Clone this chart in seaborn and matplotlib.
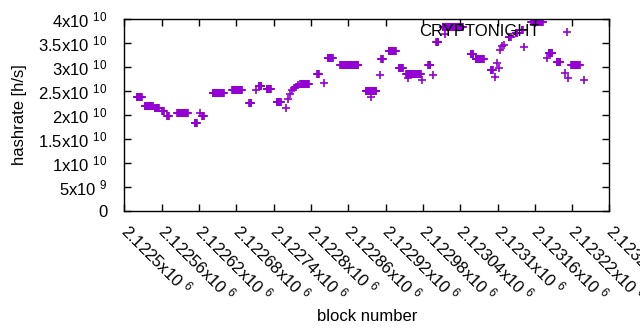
import numpy as np
import pandas as pd
import seaborn as sns
import matplotlib
matplotlib.use('Agg')
import matplotlib.pyplot as plt

# runs of blocks with the same hashrate estimate (rate in units of 1e10 h/s)
run_first = [2122520, 2122533, 2122549, 2122561, 2122569, 2122585, 2122613, 2122625,
             2122642, 2122673, 2122701, 2122716, 2122729, 2122745, 2122783, 2122810,
             2122827, 2122847, 2122888, 2122913, 2122925, 2122941, 2122953, 2122989,
             2123001, 2123012, 2123057, 2123065, 2123089, 2123118, 2123129, 2123139,
             2123154, 2123182, 2123195, 2123218]
run_last = [2122528, 2122546, 2122556, 2122564, 2122572, 2122602, 2122617, 2122628,
            2122660, 2122689, 2122704, 2122720, 2122736, 2122752, 2122797, 2122813,
            2122835, 2122876, 2122905, 2122916, 2122937, 2122948, 2122977, 2122992,
            2123005, 2123044, 2123061, 2123078, 2123092, 2123121, 2123132, 2123141,
            2123173, 2123188, 2123201, 2123232]
run_rate = [2.37, 2.19, 2.14, 2.08, 1.98, 2.04, 1.83, 1.97,
            2.45, 2.51, 2.25, 2.60, 2.53, 2.26, 2.64, 2.86,
            3.18, 3.04, 2.49, 3.17, 3.33, 2.98, 2.85, 3.03,
            3.52, 3.84, 3.27, 3.17, 2.93, 3.63, 3.71, 3.77,
            3.93, 3.29, 3.11, 3.04]

# single blocks off the runs
lone_block = [2122622, 2122712, 2122760, 2122763, 2122766, 2122769, 2122773, 2122776,
              2122779, 2122821, 2122897, 2122911, 2122956, 2122978, 2122996, 2123015,
              2123096, 2123099, 2123102, 2123104, 2123107, 2123111, 2123143, 2123180,
              2123208, 2123211, 2123213, 2123239]
lone_rate = [2.03, 2.51, 2.15, 2.33, 2.44, 2.52, 2.56, 2.58,
             2.62, 2.66, 2.37, 2.83, 2.77, 2.73, 2.83, 3.69,
             2.79, 3.08, 2.98, 3.36, 3.44, 3.46, 3.42, 3.19,
             2.87, 3.73, 2.77, 2.73]

xticks = [2122500, 2122560, 2122620, 2122680, 2122740, 2122800, 2122860,
          2122920, 2122980, 2123040, 2123100, 2123160, 2123220, 2123280]
xtick_mant = ['2.1225', '2.12256', '2.12262', '2.12268', '2.12274', '2.1228', '2.12286',
              '2.12292', '2.12298', '2.12304', '2.1231', '2.12316', '2.12322', '2.12328']
yticks = [0, 0.5e10, 1e10, 1.5e10, 2e10, 2.5e10, 3e10, 3.5e10, 4e10]
ytick_mant = ['0', '5', '1', '1.5', '2', '2.5', '3', '3.5', '4']
ytick_exp = ['', '9', '10', '10', '10', '10', '10', '10', '10']

blocks, rates = [], []
for a, b, r in zip(run_first, run_last, run_rate):
    n = b - a + 1
    blocks += list(range(a, b + 1))
    rates += [r] * n
blocks += lone_block
rates += lone_rate
df = pd.DataFrame({'block': blocks, 'hashrate': np.array(rates) * 1e10})

plt.rcParams['font.family'] = ['Liberation Sans', 'DejaVu Sans']
plt.rcParams['mathtext.fontset'] = 'custom'
plt.rcParams['mathtext.rm'] = 'Liberation Sans'
plt.rcParams['font.size'] = 12

fig = plt.figure(figsize=(6.4, 3.3), dpi=100)
ax = fig.add_axes([0.1942, 0.3615, 0.7581, 0.581])

sns.scatterplot(data=df, x='block', y='hashrate', marker='+', s=38,
                color='#9400d3', linewidth=1.2, ax=ax, legend=False)

ax.set_xlim(2122500, 2123280)
ax.set_ylim(0, 4e10)
ax.set_xticks(xticks)
ax.set_xticklabels([m + r'x10 $\mathregular{^{6}}$' for m in xtick_mant],
                   rotation=-45, ha='left', va='center', rotation_mode='anchor')
ax.set_yticks(yticks)
ax.set_yticklabels([m if e == '' else m + r'x10 $\mathregular{^{' + e + '}}$'
                    for m, e in zip(ytick_mant, ytick_exp)])
ax.tick_params(direction='in', top=True, right=True, length=5, width=1, colors='black')
ax.tick_params(axis='x', pad=12)
ax.tick_params(axis='y', pad=12)
for sp in ax.spines.values():
    sp.set_linewidth(1)
    sp.set_color('black')

ax.set_xlabel('block number', labelpad=3)
ax.set_ylabel('hashrate [h/s]', labelpad=8)
ax.text(0.856, 0.937, 'CRYPTONIGHT', transform=ax.transAxes, ha='right', va='center')

fig.savefig('out.png', dpi=100)
